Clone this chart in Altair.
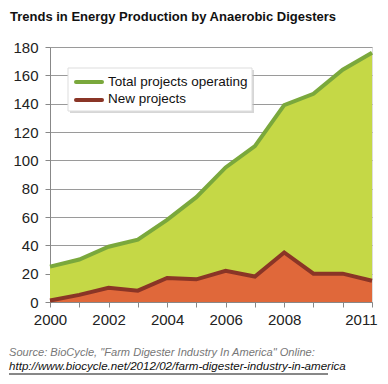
import altair as alt
import pandas as pd

years = list(range(2000, 2012))
total_projects = [25, 30, 39, 44, 58, 74, 95, 110, 139, 147, 164, 176]
new_projects = [1, 5, 10, 8, 17, 16, 22, 18, 35, 20, 20, 15]
label_years = [2000, 2002, 2004, 2006, 2008, 2011]
y_ticks = [0, 20, 40, 60, 80, 100, 120, 140, 160, 180]

title_text = "Trends in Energy Production by Anaerobic Digesters"
source_text = 'Source: BioCycle, "Farm Digester Industry In America" Online:'
url_text = "http://www.biocycle.net/2012/02/farm-digester-industry-in-america"
legend_labels = ["Total projects operating", "New projects"]

df = pd.DataFrame({"year": years, "total": total_projects, "new": new_projects})

W, H = 322, 255
FONT = "Liberation Sans, Arial, Helvetica, sans-serif"

label_list = ",".join(str(v) for v in label_years)
x_axis = alt.Axis(values=years, labelExpr=f"indexof([{label_list}], datum.value) >= 0 ? datum.value : ''",
                  grid=False, tickSize=5, tickColor="#888", domainColor="#888",
                  labelFontSize=15, labelColor="#222", labelFont=FONT, labelPadding=5,
                  labelAlign={"condition": {"test": "datum.value == 2011", "value": "right"}, "value": "center"},
                  labelOffset={"condition": {"test": "datum.value == 2011", "value": 5}, "value": 0},
                  title=None, labelFlush=False, labelOverlap=False, labelBound=False, format="d")
y_axis = alt.Axis(values=y_ticks, grid=True, gridColor="#9a9a9a", gridWidth=1,
                  tickSize=5, tickColor="#888", domainColor="#888",
                  labelFontSize=15, labelColor="#222", labelFont=FONT, labelPadding=7,
                  labelOverlap=False, labelFlush=False, title=None)
x_scale = alt.Scale(domain=[2000, 2011], nice=False)
y_scale = alt.Scale(domain=[0, 180], nice=False)

def X():
    return alt.X("year:Q", scale=x_scale, axis=x_axis)

def Y(field):
    return alt.Y(f"{field}:Q", scale=y_scale, axis=y_axis)

base = alt.Chart(df)
area_total = base.mark_area(color="#c5d846", opacity=1).encode(x=X(), y=Y("total"))
area_new = base.mark_area(color="#e0683a", opacity=1).encode(x=X(), y=Y("new"))
line_total = base.mark_line(color="#7aa83c", strokeWidth=4).encode(x=X(), y=Y("total"))
line_new = base.mark_line(color="#8a3526", strokeWidth=4).encode(x=X(), y=Y("new"))

def txt(s, xv, yv, **kw):
    return alt.Chart(pd.DataFrame({"t": [s]})).mark_text(align="left", baseline="middle", **kw).encode(
        text="t:N", x=alt.value(xv), y=alt.value(yv))

title = txt(title_text, -40, -30, font=FONT, fontSize=13, fontWeight="bold", color="#111")
src = txt(source_text, -41, 306, font=FONT, fontSize=11.1, fontStyle="italic", color="#777")
url = txt(url_text, -41, 320, font=FONT, fontSize=11.6, fontStyle="italic", color="#111")
underline = alt.Chart(pd.DataFrame({"a": [0]})).mark_rule(color="#111", strokeWidth=1).encode(
    x=alt.value(-41), x2=alt.value(278), y=alt.value(327))

# legend box
shadow = alt.Chart(pd.DataFrame({"a": [0]})).mark_rect(fill="#bbb", opacity=0.6).encode(
    x=alt.value(20), x2=alt.value(204), y=alt.value(23), y2=alt.value(66))
box = alt.Chart(pd.DataFrame({"a": [0]})).mark_rect(fill="white", stroke="#ddd").encode(
    x=alt.value(18), x2=alt.value(202), y=alt.value(21), y2=alt.value(64))
leg1 = alt.Chart(pd.DataFrame({"a": [0]})).mark_rule(color="#7aa83c", strokeWidth=4, strokeCap="round").encode(
    x=alt.value(26), x2=alt.value(52), y=alt.value(35))
leg2 = alt.Chart(pd.DataFrame({"a": [0]})).mark_rule(color="#8a3526", strokeWidth=4, strokeCap="round").encode(
    x=alt.value(26), x2=alt.value(52), y=alt.value(53))
lt1 = txt(legend_labels[0], 58, 35, font=FONT, fontSize=13.5, color="#111")
lt2 = txt(legend_labels[1], 58, 52, font=FONT, fontSize=13.5, color="#111")

chart = alt.layer(area_total, area_new, line_total, line_new, title, src, url, underline,
                  shadow, box, leg1, leg2, lt1, lt2).properties(
    width=W, height=H,
    autosize=alt.AutoSizeParams(type="none"),
    padding={"left": 42, "top": 39, "right": 8, "bottom": 74},
).configure_view(stroke=None).configure_axis(labelOverlap=False).configure(background="white")

chart.save("out.html", embed_options={"renderer": "svg", "actions": False})
